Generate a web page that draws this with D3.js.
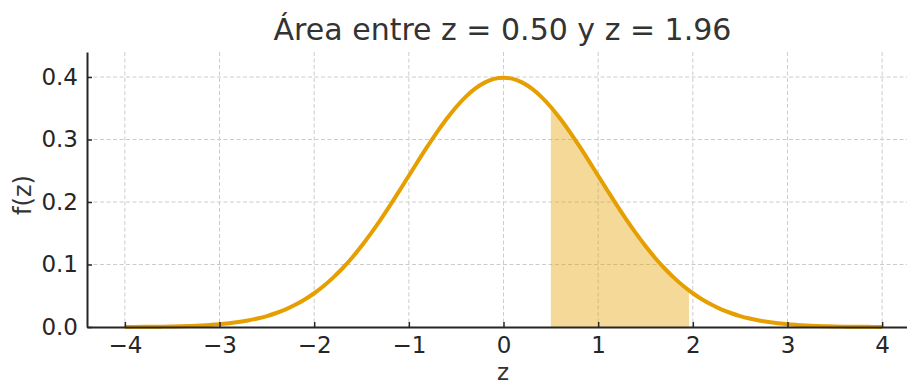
<!DOCTYPE html>
<html>
<head>
<meta charset="utf-8">
<script src="https://cdn.jsdelivr.net/npm/d3@7"></script>
<style>
  html, body { margin: 0; padding: 0; background: #fff; }
  svg { display: block; }
  text { font-family: "DejaVu Sans", sans-serif; }
</style>
</head>
<body>
<svg id="chart" width="907" height="386"></svg>
<script>
// ---- Data ----
const zValues = [
  -4.0,-3.9,-3.8,-3.7,-3.6,-3.5,-3.4,-3.3,-3.2,-3.1,
  -3.0,-2.9,-2.8,-2.7,-2.6,-2.5,-2.4,-2.3,-2.2,-2.1,
  -2.0,-1.9,-1.8,-1.7,-1.6,-1.5,-1.4,-1.3,-1.2,-1.1,
  -1.0,-0.9,-0.8,-0.7,-0.6,-0.5,-0.4,-0.3,-0.2,-0.1,
   0.0,
   0.1, 0.2, 0.3, 0.4, 0.5, 0.6, 0.7, 0.8, 0.9, 1.0,
   1.1, 1.2, 1.3, 1.4, 1.5, 1.6, 1.7, 1.8, 1.9, 2.0,
   2.1, 2.2, 2.3, 2.4, 2.5, 2.6, 2.7, 2.8, 2.9, 3.0,
   3.1, 3.2, 3.3, 3.4, 3.5, 3.6, 3.7, 3.8, 3.9, 4.0
];
const density = [
  0.0001,0.0002,0.0003,0.0004,0.0006,0.0009,0.0012,0.0017,0.0024,0.0033,
  0.0044,0.0060,0.0079,0.0104,0.0136,0.0175,0.0224,0.0283,0.0355,0.0440,
  0.0540,0.0656,0.0790,0.0940,0.1109,0.1295,0.1497,0.1714,0.1942,0.2179,
  0.2420,0.2661,0.2897,0.3123,0.3332,0.3521,0.3683,0.3814,0.3910,0.3970,
  0.3989,
  0.3970,0.3910,0.3814,0.3683,0.3521,0.3332,0.3123,0.2897,0.2661,0.2420,
  0.2179,0.1942,0.1714,0.1497,0.1295,0.1109,0.0940,0.0790,0.0656,0.0540,
  0.0440,0.0355,0.0283,0.0224,0.0175,0.0136,0.0104,0.0079,0.0060,0.0044,
  0.0033,0.0024,0.0017,0.0012,0.0009,0.0006,0.0004,0.0003,0.0002,0.0001
];
const areaBounds = [0.50, 1.96];
const boundDensity = [0.3521, 0.0584];
const xTicks = [-4, -3, -2, -1, 0, 1, 2, 3, 4];
const yTicks = [0.0, 0.1, 0.2, 0.3, 0.4];
const titleText = "Área entre z = 0.50 y z = 1.96";
const xLabel = "z";
const yLabel = "f(z)";

// ---- Layout ----
const svg = d3.select("#chart");
const mLeft = 87, mRight = 920, mTop = 52, mBottom = 327;
const x = d3.scaleLinear().domain([-4.4, 4.4]).range([mLeft, mRight]);
const y = d3.scaleLinear().domain([0, 0.44]).range([mBottom, mTop]);

const pts = zValues.map((z, i) => ({ z, f: density[i] }));

// shaded points
const shadePts = [{ z: areaBounds[0], f: boundDensity[0] }]
  .concat(pts.filter(p => p.z > areaBounds[0] + 1e-9 && p.z < areaBounds[1]))
  .concat([{ z: areaBounds[1], f: boundDensity[1] }]);

// grid
const grid = svg.append("g");
grid.selectAll("line.vx").data(xTicks).enter().append("line")
  .attr("x1", d => x(d)).attr("x2", d => x(d))
  .attr("y1", mTop).attr("y2", mBottom)
  .attr("stroke", "#cccccc").attr("stroke-width", 1).attr("stroke-dasharray", "4,2.5");
grid.selectAll("line.hy").data(yTicks.filter(d => d > 0)).enter().append("line")
  .attr("x1", mLeft).attr("x2", mRight)
  .attr("y1", d => y(d)).attr("y2", d => y(d))
  .attr("stroke", "#cccccc").attr("stroke-width", 1).attr("stroke-dasharray", "4,2.5");

// shaded area
const area = d3.area().x(d => x(d.z)).y0(y(0)).y1(d => y(d.f)).curve(d3.curveMonotoneX);
svg.append("path").datum(shadePts).attr("d", area)
  .attr("fill", "#E69F00").attr("fill-opacity", 0.4);

// curve
const line = d3.line().x(d => x(d.z)).y(d => y(d.f)).curve(d3.curveMonotoneX);
svg.append("path").datum(pts).attr("d", line)
  .attr("fill", "none").attr("stroke", "#E69F00").attr("stroke-width", 4)
  .attr("stroke-linejoin", "round").attr("stroke-linecap", "butt");

// axes
const fmtX = d => (d < 0 ? "\u2212" + Math.abs(d) : String(d));
const xAxis = d3.axisBottom(x).tickValues(xTicks).tickFormat(fmtX).tickSizeInner(-5).tickSizeOuter(0).tickPadding(10);
const gx = svg.append("g").attr("transform", `translate(0,${mBottom})`).call(xAxis);
gx.select(".domain").attr("stroke", "#262626").attr("stroke-width", 2);
gx.selectAll(".tick line").attr("stroke", "#262626").attr("stroke-width", 1.5);
gx.selectAll(".tick text").attr("font-size", 23).attr("fill", "#262626")
  .attr("font-family", "DejaVu Sans, sans-serif");

const yAxis = d3.axisLeft(y).tickValues(yTicks).tickFormat(d3.format(".1f")).tickSizeInner(-5).tickSizeOuter(0).tickPadding(9);
const gy = svg.append("g").attr("transform", `translate(${mLeft},0)`).call(yAxis);
gy.select(".domain").attr("stroke", "#262626").attr("stroke-width", 2);
gy.selectAll(".tick line").attr("stroke", "#262626").attr("stroke-width", 1.5);
gy.selectAll(".tick text").attr("font-size", 23).attr("fill", "#262626")
  .attr("font-family", "DejaVu Sans, sans-serif");

// labels
svg.append("text").attr("x", (mLeft + mRight) / 2 - 1).attr("y", 40)
  .attr("text-anchor", "middle").attr("font-size", 30).attr("fill", "#333333")
  .text(titleText);
svg.append("text").attr("x", 503).attr("y", 380)
  .attr("text-anchor", "middle").attr("font-size", 23).attr("fill", "#333333")
  .text(xLabel);
svg.append("text").attr("transform", "translate(31,195) rotate(-90)")
  .attr("text-anchor", "middle").attr("font-size", 24).attr("fill", "#333333")
  .text(yLabel);
</script>
</body>
</html>
